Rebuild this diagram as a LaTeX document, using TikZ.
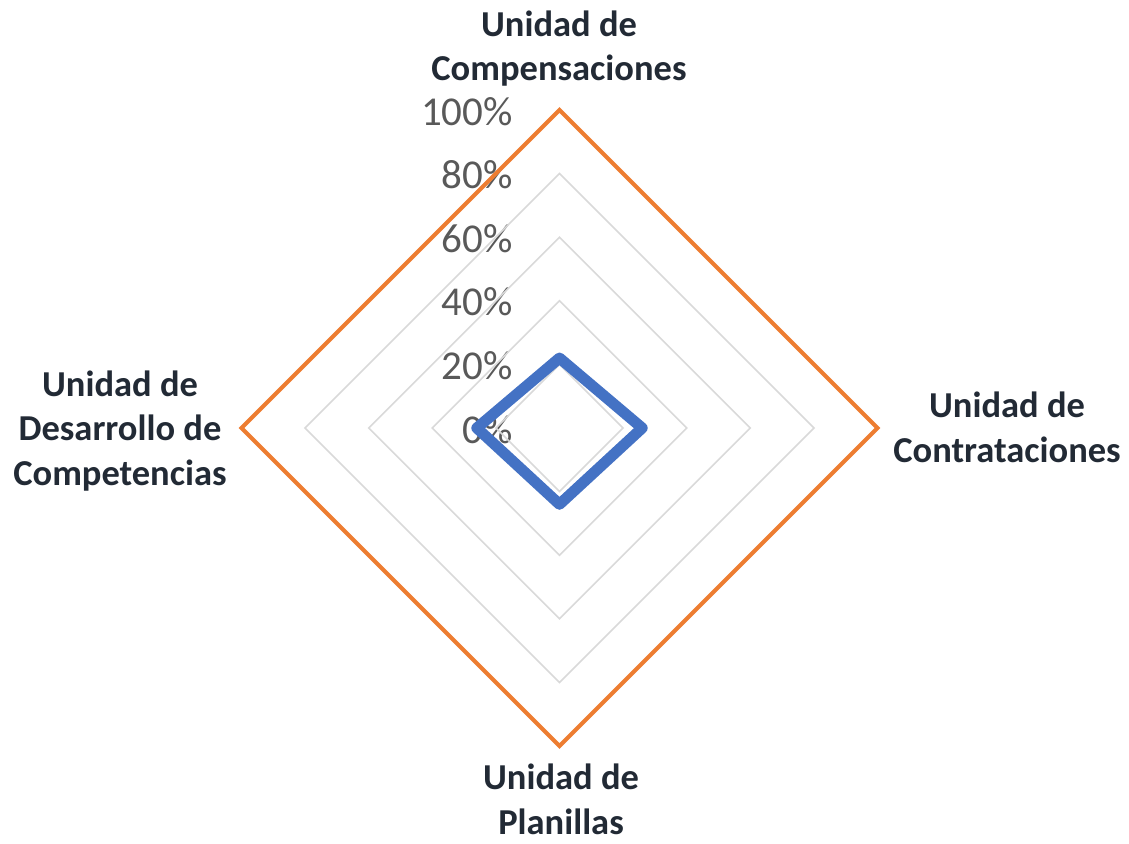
\documentclass[tikz,border=0pt]{standalone}
\usepackage{fontspec}
\setmainfont{Carlito}
\definecolor{gridgray}{HTML}{D9D9D9}
\definecolor{orangeS}{HTML}{ED7D31}
\definecolor{blueS}{HTML}{4472C4}
\definecolor{ticktext}{HTML}{595959}
\definecolor{cattext}{HTML}{222A35}
\begin{document}
\begin{tikzpicture}[x=1pt,y=-1pt,
  gridline/.style={draw=gridgray,line width=1.6pt},
  maxline/.style={draw=orangeS,line width=4pt,line join=miter},
  seriesline/.style={draw=blueS,line width=11pt,line join=round},
  ticklabel/.style={text=ticktext,font=\fontsize{41}{49}\selectfont,inner sep=0pt,anchor=base east},
  catlabel/.style={text=cattext,font=\fontsize{36.5}{44.5}\selectfont\bfseries,align=center,inner sep=0pt,anchor=base}]
\useasboundingbox (0,0) rectangle (1129,843);
\def\cx{559.5}\def\cy{428}\def\R{318}
% tick labels
\foreach \p in {0,20,40,60,80,100}{
  \node[ticklabel] (t\p) at (513,{\cy-\p/100*\R+15}) {\p\%};
}
% grid
\foreach \p in {20,40,60,80}{
  \pgfmathsetmacro{\r}{\p/100*\R}
  \draw[gridline] (\cx,\cy-\r) -- (\cx+\r,\cy) -- (\cx,\cy+\r) -- (\cx-\r,\cy) -- cycle;
}
% 100% series
\coordinate (oT) at (\cx,\cy-\R);
\coordinate (oR) at (\cx+\R,\cy);
\coordinate (oB) at (\cx,\cy+\R);
\coordinate (oL) at (\cx-\R,\cy);
\draw[maxline] (oT) -- (oR) -- (oB) -- (oL) -- cycle;
% data series
\coordinate (bT) at (\cx,{\cy-0.22*\R});
\coordinate (bR) at ({\cx+0.26*\R},\cy);
\coordinate (bB) at (\cx,{\cy+0.24*\R});
\coordinate (bL) at ({\cx-0.26*\R},\cy);
\draw[seriesline] (bT) -- (bR) -- (bB) -- (bL) -- cycle;
% category labels (anchor at baseline of last line)
\node[catlabel] (cTop) at (559,81) {Unidad de\\Compensaciones};
\node[catlabel] (cRight) at (1007,462) {Unidad de\\Contrataciones};
\node[catlabel] (cBottom) at (561,834) {Unidad de\\Planillas};
\node[catlabel] (cLeft) at (120,485) {Unidad de\\Desarrollo de\\Competencias};
\end{tikzpicture}
\end{document}
